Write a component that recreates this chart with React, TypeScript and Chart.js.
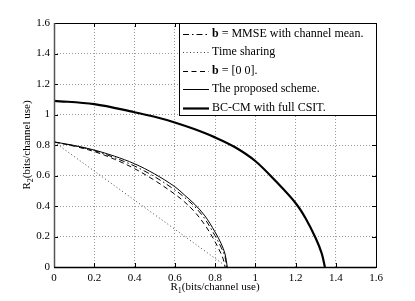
import React, { useEffect, useRef } from "react";
import { Chart, registerables } from "chart.js";

Chart.register(...registerables);

// ---- data ----
const mmseR1 = [0, 0.1, 0.2, 0.3, 0.4, 0.5, 0.6, 0.65, 0.7, 0.75, 0.8, 0.83, 0.85, 0.857];
const mmseR2 = [0.82, 0.795, 0.763, 0.717, 0.662, 0.592, 0.506, 0.455, 0.395, 0.315, 0.205, 0.13, 0.065, 0];

const tsR1 = [0, 0.86];
const tsR2 = [0.82, 0];

const zeroR1 = [0, 0.1, 0.2, 0.3, 0.4, 0.5, 0.6, 0.65, 0.7, 0.75, 0.79, 0.82, 0.84, 0.85];
const zeroR2 = [0.82, 0.792, 0.757, 0.707, 0.645, 0.568, 0.478, 0.425, 0.36, 0.275, 0.19, 0.115, 0.055, 0];

const propR1 = [0, 0.1, 0.2, 0.3, 0.4, 0.5, 0.6, 0.65, 0.7, 0.75, 0.8, 0.83, 0.85, 0.861];
const propR2 = [0.82, 0.797, 0.767, 0.727, 0.677, 0.61, 0.527, 0.47, 0.41, 0.335, 0.23, 0.155, 0.085, 0];

const bcR1 = [0, 0.2, 0.4, 0.5, 0.6, 0.7, 0.8, 0.9, 1.0, 1.1, 1.2, 1.25, 1.3, 1.33, 1.346];
const bcR2 = [1.09, 1.068, 1.015, 0.985, 0.948, 0.903, 0.85, 0.785, 0.695, 0.565, 0.42, 0.32, 0.19, 0.09, 0];

const seriesLabels = [
  "b = MMSE with channel mean.",
  "Time sharing",
  "b = [0 0].",
  "The proposed scheme.",
  "BC-CM with full CSIT.",
];

const xTickValues = [0, 0.2, 0.4, 0.6, 0.8, 1, 1.2, 1.4, 1.6];
const xTickLabels = ["0", "0.2", "0.4", "0.6", "0.8", "1", "1.2", "1.4", "1.6"];
const yTickValues = [0, 0.2, 0.4, 0.6, 0.8, 1, 1.2, 1.4, 1.6];
const yTickLabels = ["0", "0.2", "0.4", "0.6", "0.8", "1", "1.2", "1.4", "1.6"];

const xTitle = ["R", "1", "(bits/channel use)"];
const yTitle = ["R", "2", "(bits/channel use)"];

const toPts = (xs: number[], ys: number[]) => xs.map((x, i) => ({ x, y: ys[i] }));

const FONT = '"Liberation Serif", "Times New Roman", serif';

function drawSubTitle(ctx: CanvasRenderingContext2D, parts: string[], cx: number, baseY: number) {
  ctx.font = `11px ${FONT}`;
  const w1 = ctx.measureText(parts[0]).width;
  const w3 = ctx.measureText(parts[2]).width;
  ctx.font = `8px ${FONT}`;
  const w2 = ctx.measureText(parts[1]).width;
  let x = cx - (w1 + w2 + w3) / 2;
  ctx.textAlign = "left";
  ctx.textBaseline = "alphabetic";
  ctx.fillStyle = "#000";
  ctx.font = `11px ${FONT}`;
  ctx.fillText(parts[0], x, baseY);
  x += w1;
  ctx.font = `8px ${FONT}`;
  ctx.fillText(parts[1], x, baseY + 3);
  x += w2;
  ctx.font = `11px ${FONT}`;
  ctx.fillText(parts[2], x, baseY);
}

const overlayPlugin = {
  id: "overlay",
  afterDatasetsDraw(chart: any) {
    const ctx: CanvasRenderingContext2D = chart.ctx;
    const { left, right, top, bottom } = chart.chartArea;
    const xs = chart.scales.x;
    const ys = chart.scales.y;
    ctx.save();
    // inward ticks
    ctx.strokeStyle = "#000";
    ctx.lineWidth = 1;
    ctx.setLineDash([]);
    ctx.beginPath();
    for (const v of xTickValues) {
      const px = Math.round(xs.getPixelForValue(v)) + 0.5;
      ctx.moveTo(px, bottom);
      ctx.lineTo(px, bottom - 4);
      ctx.moveTo(px, top);
      ctx.lineTo(px, top + 4);
    }
    for (const v of yTickValues) {
      const py = Math.round(ys.getPixelForValue(v)) + 0.5;
      ctx.moveTo(left, py);
      ctx.lineTo(left + 4, py);
      ctx.moveTo(right, py);
      ctx.lineTo(right - 4, py);
    }
    ctx.stroke();
    // frame
    ctx.lineWidth = 1;
    ctx.strokeStyle = "#000";
    ctx.strokeRect(Math.round(left) + 0.5, Math.round(top) + 0.5, Math.round(right - left), Math.round(bottom - top));
    ctx.lineWidth = 1.5;
    ctx.strokeStyle = "#555";
    ctx.beginPath();
    ctx.moveTo(Math.round(left) + 0.5, top);
    ctx.lineTo(Math.round(left) + 0.5, bottom);
    ctx.stroke();
    ctx.strokeStyle = "#000";
    ctx.beginPath();
    ctx.moveTo(left, Math.round(bottom) + 0.5);
    ctx.lineTo(right, Math.round(bottom) + 0.5);
    ctx.stroke();

    // axis titles
    drawSubTitle(ctx, xTitle, (left + right) / 2, bottom + 22.5);
    ctx.save();
    ctx.translate(30, (top + bottom) / 2);
    ctx.rotate(-Math.PI / 2);
    drawSubTitle(ctx, yTitle, 0, 0);
    ctx.restore();

    // legend
    const lw = 197;
    const lh = 92;
    const lx = Math.round(right) - lw;
    const ly = Math.round(top);
    ctx.fillStyle = "#fff";
    ctx.fillRect(lx, ly, lw, lh);
    ctx.strokeStyle = "#000";
    ctx.lineWidth = 1;
    ctx.setLineDash([]);
    ctx.strokeRect(lx + 0.5, ly + 0.5, lw, lh);
    chart.data.datasets.forEach((ds: any, i: number) => {
      const cy = ly + 10.5 + i * 18.5;
      ctx.save();
      ctx.strokeStyle = ds.borderColor;
      ctx.lineWidth = ds.borderWidth;
      ctx.setLineDash(ds.borderDash || []);
      ctx.beginPath();
      ctx.moveTo(lx + 4, Math.round(cy) + 0.5);
      ctx.lineTo(lx + 30, Math.round(cy) + 0.5);
      ctx.stroke();
      ctx.restore();
      const label: string = ds.label;
      ctx.fillStyle = "#000";
      ctx.textAlign = "left";
      ctx.textBaseline = "middle";
      let tx = lx + 33;
      if (label.startsWith("b ")) {
        ctx.font = `bold 12px ${FONT}`;
        ctx.fillText("b", tx, cy);
        tx += ctx.measureText("b").width;
        ctx.font = `12px ${FONT}`;
        ctx.fillText(label.slice(1), tx, cy);
      } else {
        ctx.font = `12px ${FONT}`;
        ctx.fillText(label, tx, cy);
      }
    });
    ctx.restore();
  },
};

export default function App() {
  const ref = useRef<HTMLCanvasElement | null>(null);
  useEffect(() => {
    if (!ref.current) return;
    const common = {
      fill: false,
      pointRadius: 0,
      pointHoverRadius: 0,
      tension: 0.35,
      borderColor: "#000",
    };
    const chart = new Chart(ref.current, {
      type: "line",
      data: {
        datasets: [
          { ...common, label: seriesLabels[0], data: toPts(mmseR1, mmseR2), borderWidth: 1, borderDash: [6, 3, 1.5, 3] },
          { ...common, label: seriesLabels[1], data: toPts(tsR1, tsR2), borderWidth: 1, borderDash: [1, 2.5], borderColor: "#444" },
          { ...common, label: seriesLabels[2], data: toPts(zeroR1, zeroR2), borderWidth: 1, borderDash: [5, 3.5] },
          { ...common, label: seriesLabels[3], data: toPts(propR1, propR2), borderWidth: 1 },
          { ...common, label: seriesLabels[4], data: toPts(bcR1, bcR2), borderWidth: 2.2 },
        ],
      },
      options: {
        responsive: false,
        animation: false,
        layout: { padding: { top: 23, right: 39, left: 0, bottom: 0 } },
        plugins: { legend: { display: false }, tooltip: { enabled: false } },
        scales: {
          x: {
            type: "linear",
            min: 0,
            max: 1.6,
            afterBuildTicks: (s: any) => {
              s.ticks = xTickValues.map((v) => ({ value: v }));
            },
            afterFit: (s: any) => {
              s.height = 34;
            },
            ticks: {
              callback: (_v: any, i: number) => xTickLabels[i],
              font: { family: FONT, size: 11 },
              color: "#000",
              padding: 5,
              maxRotation: 0,
              autoSkip: false,
            },
            grid: { color: "#9a9a9a", lineWidth: 1, drawTicks: false },
            border: { display: false, dash: [1, 2] },
          },
          y: {
            type: "linear",
            min: 0,
            max: 1.6,
            afterBuildTicks: (s: any) => {
              s.ticks = yTickValues.map((v) => ({ value: v }));
            },
            afterFit: (s: any) => {
              s.width = 54;
            },
            ticks: {
              callback: (_v: any, i: number) => yTickLabels[i],
              font: { family: FONT, size: 11 },
              color: "#000",
              padding: 4,
              autoSkip: false,
            },
            grid: { color: "#9a9a9a", lineWidth: 1, drawTicks: false },
            border: { display: false, dash: [1, 2] },
          },
        },
      },
      plugins: [overlayPlugin],
    } as any);
    return () => chart.destroy();
  }, []);
  return (
    <div style={{ position: "fixed", left: 0, top: 0, width: 415, height: 301, background: "#fff" }}>
      <canvas ref={ref} width={415} height={301} style={{ display: "block" }} />
    </div>
  );
}
